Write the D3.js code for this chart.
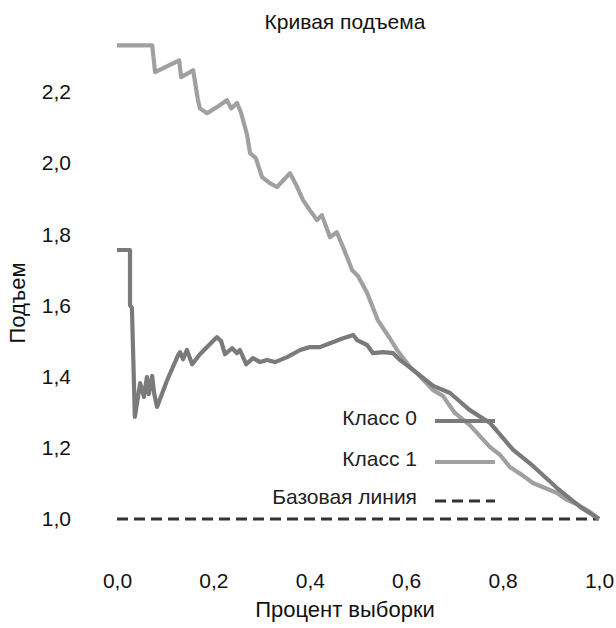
<!DOCTYPE html>
<html>
<head>
<meta charset="utf-8">
<script src="https://cdn.jsdelivr.net/npm/d3@7"></script>
<style>
  html, body { margin: 0; padding: 0; background: #fff; }
  svg { display: block; font-family: "Liberation Sans", Arial, sans-serif; }
</style>
</head>
<body>
<svg id="chart" width="616" height="628"></svg>
<script>
const titleText = "Кривая подъема";
const xLabel = "Процент выборки";
const yLabel = "Подъем";
const seriesNames = ["Класс 0", "Класс 1", "Базовая линия"];
const xTicks = [0.0, 0.2, 0.4, 0.6, 0.8, 1.0];
const yTicks = [1.0, 1.2, 1.4, 1.6, 1.8, 2.0, 2.2];

const class0X = [0, 0.027, 0.027, 0.031, 0.037, 0.048, 0.056, 0.062, 0.066, 0.073, 0.077, 0.083, 0.104, 0.127, 0.131, 0.137, 0.145, 0.156, 0.172, 0.207, 0.216, 0.224, 0.239, 0.249, 0.255, 0.268, 0.282, 0.297, 0.311, 0.328, 0.353, 0.380, 0.400, 0.421, 0.442, 0.469, 0.490, 0.498, 0.519, 0.531, 0.552, 0.573, 0.587, 0.614, 0.656, 0.691, 0.732, 0.774, 0.822, 0.863, 0.913, 0.961, 1.0];
const class0Y = [1.756, 1.756, 1.601, 1.593, 1.287, 1.382, 1.343, 1.399, 1.351, 1.402, 1.354, 1.315, 1.390, 1.461, 1.469, 1.449, 1.475, 1.435, 1.463, 1.511, 1.500, 1.463, 1.480, 1.466, 1.475, 1.435, 1.452, 1.441, 1.447, 1.441, 1.455, 1.475, 1.483, 1.483, 1.494, 1.508, 1.517, 1.503, 1.489, 1.466, 1.469, 1.466, 1.447, 1.419, 1.374, 1.354, 1.306, 1.270, 1.194, 1.149, 1.087, 1.034, 1.000];

const class1X = [0, 0.073, 0.079, 0.129, 0.133, 0.158, 0.168, 0.172, 0.187, 0.210, 0.228, 0.237, 0.249, 0.257, 0.270, 0.276, 0.288, 0.301, 0.317, 0.332, 0.359, 0.373, 0.386, 0.400, 0.415, 0.425, 0.442, 0.456, 0.469, 0.488, 0.500, 0.519, 0.541, 0.566, 0.581, 0.608, 0.622, 0.656, 0.676, 0.701, 0.732, 0.774, 0.795, 0.815, 0.840, 0.863, 0.888, 0.913, 0.934, 0.954, 0.981, 1.0];
const class1Y = [2.331, 2.331, 2.256, 2.289, 2.242, 2.261, 2.177, 2.154, 2.140, 2.160, 2.177, 2.154, 2.169, 2.143, 2.079, 2.028, 2.014, 1.961, 1.944, 1.933, 1.972, 1.935, 1.896, 1.868, 1.840, 1.854, 1.792, 1.806, 1.764, 1.699, 1.683, 1.635, 1.559, 1.508, 1.475, 1.427, 1.410, 1.362, 1.346, 1.298, 1.264, 1.202, 1.180, 1.146, 1.124, 1.101, 1.087, 1.073, 1.053, 1.042, 1.020, 1.000];

const baselineX = [0, 1];
const baselineY = [1, 1];

const svg = d3.select("#chart");
const FS = 21;
const x = d3.scaleLinear().domain([0, 1]).range([117, 599]);
const y = d3.scaleLinear().domain([1.0, 2.2]).range([519, 92]);
const fmt = v => d3.format(".1f")(v).replace(".", ",");

const xAxis = svg.append("g").attr("transform", `translate(0,${y(1.0)})`)
  .call(d3.axisBottom(x).tickValues(xTicks).tickFormat(fmt).tickSize(0).tickPadding(54));
const yAxis = svg.append("g").attr("transform", `translate(${x(0)},0)`)
  .call(d3.axisLeft(y).tickValues(yTicks).tickFormat(fmt).tickSize(0).tickPadding(46));
[xAxis, yAxis].forEach(g => {
  g.select(".domain").remove();
  g.selectAll("text").attr("font-size", FS).attr("fill", "#111")
    .attr("font-family", "'Liberation Sans', Arial, sans-serif");
});

const line = d3.line().x(d => x(d[0])).y(d => y(d[1]));
const zip = (a, b) => a.map((v, i) => [v, b[i]]);

svg.append("path").datum(zip(baselineX, baselineY)).attr("d", line)
  .attr("fill", "none").attr("stroke", "#333").attr("stroke-width", 2.8)
  .attr("stroke-dasharray", "11,6");
svg.append("path").datum(zip(class1X, class1Y)).attr("d", line)
  .attr("fill", "none").attr("stroke", "#a0a0a0").attr("stroke-width", 4.2)
  .attr("stroke-linejoin", "round");
svg.append("path").datum(zip(class0X, class0Y)).attr("d", line)
  .attr("fill", "none").attr("stroke", "#7a7a7a").attr("stroke-width", 4.2)
  .attr("stroke-linejoin", "round");

// legend
const legendItems = [
  { name: seriesNames[0], color: "#7a7a7a", dash: null, w: 4.2, ty: 418, ly: 421 },
  { name: seriesNames[1], color: "#a0a0a0", dash: null, w: 4.2, ty: 459, ly: 462 },
  { name: seriesNames[2], color: "#333", dash: "11,6", w: 2.8, ty: 497, ly: 501 }
];
const lg = svg.append("g");
legendItems.forEach(it => {
  lg.append("text").attr("x", 417).attr("y", it.ty).attr("dy", "0.35em")
    .attr("text-anchor", "end").attr("font-size", FS).attr("fill", "#222").text(it.name);
  lg.append("line").attr("x1", 435).attr("x2", 495).attr("y1", it.ly).attr("y2", it.ly)
    .attr("stroke", it.color).attr("stroke-width", it.w)
    .attr("stroke-dasharray", it.dash);
});

svg.append("text").attr("x", 345).attr("y", 22).attr("dy", "0.35em")
  .attr("text-anchor", "middle").attr("font-size", FS).attr("fill", "#111").text(titleText);
svg.append("text").attr("x", 345).attr("y", 609).attr("dy", "0.35em")
  .attr("text-anchor", "middle").attr("font-size", 22).attr("fill", "#111").text(xLabel);
svg.append("text").attr("transform", "translate(17,303) rotate(-90)").attr("dy", "0.35em")
  .attr("text-anchor", "middle").attr("font-size", 22).attr("fill", "#111").text(yLabel);
</script>
</body>
</html>
